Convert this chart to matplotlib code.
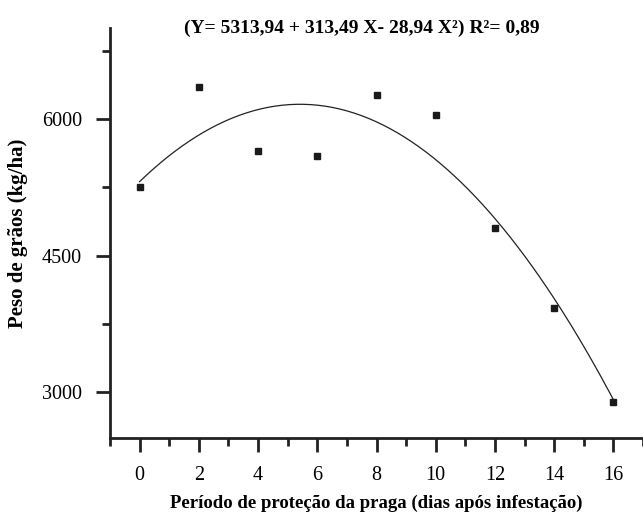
import numpy as np
import matplotlib
matplotlib.use("Agg")
import matplotlib.pyplot as plt
from matplotlib.ticker import MultipleLocator

plt.rcParams['font.family'] = ['Liberation Serif', 'DejaVu Serif']

# Data
dias = [0, 2, 4, 6, 8, 10, 12, 14, 16]
peso = [5250, 6350, 5650, 5600, 6260, 6050, 4800, 3930, 2895]
b0, b1, b2 = 5313.94, 313.49, -28.94
x_ticks = [0, 2, 4, 6, 8, 10, 12, 14, 16]
y_ticks = [3000, 4500, 6000]
title = "(Y= 5313,94 + 313,49 X- 28,94 X²) R²= 0,89"
xlabel = "Período de proteção da praga (dias após infestação)"
ylabel = "Peso de grãos (kg/ha)"

W, H = 643, 522
fig = plt.figure(figsize=(W / 100, H / 100), dpi=100)
left, right, top, bottom = 110, 643, 28, 438
ax = fig.add_axes([left / W, 1 - bottom / H, (right - left) / W, (bottom - top) / H])

xs = np.linspace(0, 16, 200)
ax.plot(xs, b0 + b1 * xs + b2 * xs ** 2, color='#222222', lw=0.9)
ax.plot(dias, peso, ls='none', marker='s', ms=5, color='#1a1a1a', mec='#1a1a1a')

ax.set_xlim(-1, 17)
ax.set_ylim(2500, 7000)
ax.spines['top'].set_visible(False)
ax.spines['right'].set_visible(False)
for s in ('left', 'bottom'):
    ax.spines[s].set_linewidth(2.0)
    ax.spines[s].set_color('#222222')

ax.set_xticks(x_ticks)
ax.set_yticks(y_ticks)
ax.xaxis.set_minor_locator(MultipleLocator(1))
ax.yaxis.set_minor_locator(MultipleLocator(750))
ax.tick_params(which='major', length=10, width=2.0, color='#222222', labelsize=14.5)
ax.tick_params(which='minor', length=5.5, width=2.0, color='#222222')
ax.tick_params(axis='x', pad=10)
ax.tick_params(axis='y', pad=10)

ax.set_xlabel(xlabel, fontsize=13.5, fontweight='bold', labelpad=7)
ax.set_ylabel(ylabel, fontsize=15, fontweight='bold', labelpad=10)
fig.text(362 / W, 1 - 28 / H, title, ha='center', va='center', fontsize=14, fontweight='bold')

fig.savefig('out.png', dpi=100)
